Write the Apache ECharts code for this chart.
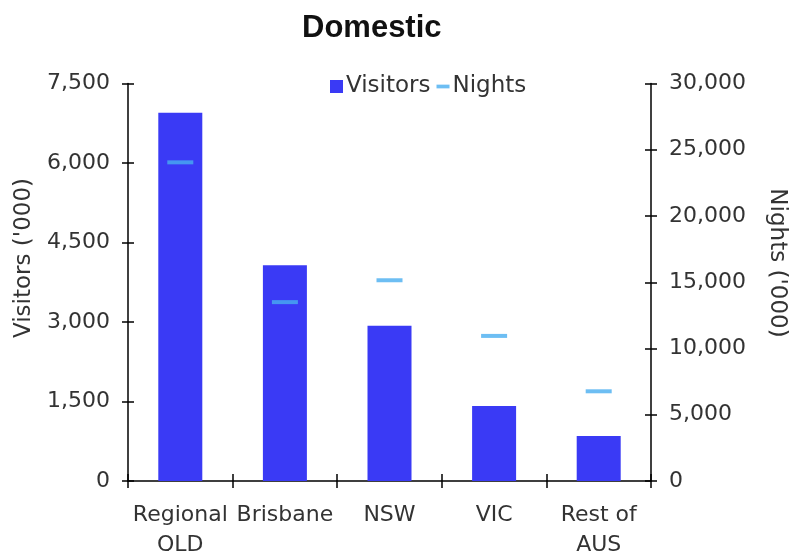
<!DOCTYPE html>
<html>
<head>
<meta charset="utf-8">
<script src="https://cdn.jsdelivr.net/npm/echarts@6/dist/echarts.min.js"></script>
<style>html,body{margin:0;padding:0;background:#fff;}#c{width:791px;height:551px;}</style>
</head>
<body>
<div id="c"></div>
<script>
const categories = ['Regional\nQLD', 'Brisbane', 'NSW', 'VIC', 'Rest of\nAUS'];
const visitors = [6950, 4070, 2930, 1415, 850];
const nights = [24050, 13500, 15150, 10950, 6770];
const leftTicks = {min: 0, max: 7500, interval: 1500};
const rightTicks = {min: 0, max: 30000, interval: 5000};

const FONT = 'DejaVu Sans';
const LBL = {fontFamily: FONT, fontSize: 22, color: '#333'};
const chart = echarts.init(document.getElementById('c'), null, {renderer: 'canvas'});
const fmt = v => v.toLocaleString('en-US');
const axisLine = {show: true, lineStyle: {color: '#000', width: 1.5}};
const tickOut = {show: true, inside: false, length: 6, lineStyle: {color: '#000', width: 1.5}};
const tickIn = {show: true, inside: true, length: 6, lineStyle: {color: '#000', width: 1.5}};

chart.setOption({
  animation: false,
  backgroundColor: '#fff',
  title: {
    text: 'Domestic', left: 297, top: 8,
    textStyle: {fontFamily: 'Liberation Sans', fontWeight: 'bold', fontSize: 31, color: '#111'}
  },
  legend: {
    left: 325, top: 70, itemWidth: 13, itemHeight: 13, itemGap: 6,
    textStyle: {fontFamily: FONT, fontSize: 23, color: '#333', padding: [0, 0, 0, -2]},
    data: [
      {name: 'Visitors', icon: 'rect'},
      {name: 'Nights', icon: 'path://M0,0 H14 V4 H0 Z'}
    ]
  },
  grid: {left: 128, right: 140, top: 83.5, bottom: 70, containLabel: false, outerBoundsMode: 'none'},
  xAxis: [
    {
      type: 'category', data: categories, boundaryGap: true,
      axisLine: axisLine, axisTick: Object.assign({}, tickOut, {length: 7}),
      axisLabel: Object.assign({}, LBL, {margin: 19, lineHeight: 30, interval: 0}),
      splitLine: {show: false}
    },
    {
      type: 'category', data: categories, position: 'bottom', boundaryGap: true,
      axisLine: {show: false}, axisTick: Object.assign({}, tickIn, {length: 7}),
      axisLabel: {show: false}, splitLine: {show: false}
    }
  ],
  yAxis: [
    {
      type: 'value', position: 'left', min: leftTicks.min, max: leftTicks.max, interval: leftTicks.interval,
      axisLine: axisLine, axisTick: tickOut,
      axisLabel: Object.assign({}, LBL, {margin: 18, formatter: fmt}),
      splitLine: {show: false}
    },
    {
      type: 'value', position: 'right', min: rightTicks.min, max: rightTicks.max, interval: rightTicks.interval,
      axisLine: axisLine, axisTick: tickOut,
      axisLabel: Object.assign({}, LBL, {margin: 18, formatter: fmt}),
      splitLine: {show: false}
    },
    {
      type: 'value', position: 'left', min: leftTicks.min, max: leftTicks.max, interval: leftTicks.interval,
      axisLine: {show: false}, axisTick: tickIn, axisLabel: {show: false}, splitLine: {show: false}
    },
    {
      type: 'value', position: 'right', min: rightTicks.min, max: rightTicks.max, interval: rightTicks.interval,
      axisLine: {show: false}, axisTick: tickIn, axisLabel: {show: false}, splitLine: {show: false}
    }
  ],
  series: [
    {
      name: 'Visitors', type: 'bar', data: visitors, barWidth: 44,
      itemStyle: {color: '#3a3af5'}
    },
    {
      name: 'Nights', type: 'scatter', yAxisIndex: 1, data: nights,
      symbol: 'rect', symbolSize: [26, 4],
      itemStyle: {color: '#48aef0'}, z: 5
    }
  ],
  graphic: [
    {
      type: 'text', x: 24, y: 258, rotation: Math.PI / 2,
      style: {text: "Visitors ('000)", fontFamily: FONT, fontSize: 23, fill: '#333', align: 'center', verticalAlign: 'middle'}
    },
    {
      type: 'text', x: 777, y: 263, rotation: -Math.PI / 2,
      style: {text: "Nights ('000)", fontFamily: FONT, fontSize: 23, fill: '#333', align: 'center', verticalAlign: 'middle'}
    }
  ]
});
</script>
</body>
</html>
